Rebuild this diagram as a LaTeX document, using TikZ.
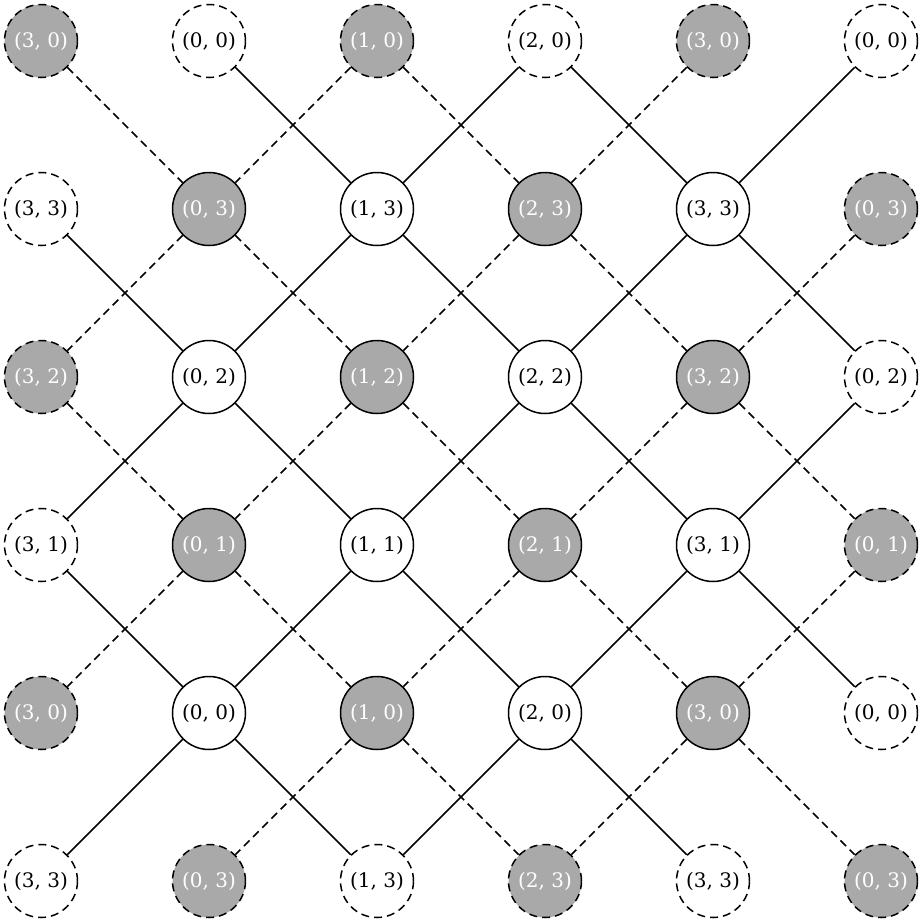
\documentclass[tikz,border=0pt]{standalone}
\usepackage{fontspec}
\setmainfont{DejaVu Serif}
\definecolor{grayfill}{HTML}{A9A9A9}
\begin{document}
\begin{tikzpicture}[x=0.5pt,y=-0.5pt,
  vtx/.style={circle,draw,line width=0.75pt,minimum size=36.5pt,inner sep=0pt,font=\fontsize{10}{12}\selectfont},
  wht/.style={fill=white,text=black},
  gry/.style={fill=grayfill,text=white},
  outerb/.style={dash pattern=on 4pt off 2.5pt},
  innerb/.style={solid},
  wedge/.style={line width=0.75pt},
  gedge/.style={line width=0.75pt,dash pattern=on 4pt off 2.5pt}]
\useasboundingbox (0,0) rectangle (923,923);
\foreach \r in {0,...,5}{%
  \foreach \c in {0,...,5}{%
    \pgfmathtruncatemacro\la{mod(\c+3,4)}%
    \pgfmathtruncatemacro\lb{mod(8-\r,4)}%
    \pgfmathtruncatemacro\g{mod(\r+\c,2)}%
    \pgfmathtruncatemacro\inn{(\r>0)&&(\r<5)&&(\c>0)&&(\c<5)}%
    \ifnum\g=0 \def\col{gry}\else\def\col{wht}\fi
    \ifnum\inn=1 \def\bd{innerb}\else\def\bd{outerb}\fi
    \node[vtx,\col,\bd] (n\r-\c) at ({41+168*\c},{41+168*\r}) {(\la, \lb)};
  }%
}
\foreach \r in {0,...,4}{%
  \foreach \c in {0,...,5}{%
    \pgfmathtruncatemacro\g{mod(\r+\c,2)}%
    \ifnum\g=0 \def\es{gedge}\else\def\es{wedge}\fi
    \pgfmathtruncatemacro\rN{\r+1}%
    \pgfmathtruncatemacro\cR{\c+1}%
    \pgfmathtruncatemacro\cL{\c-1}%
    \pgfmathtruncatemacro\ia{(\r>0)&&(\c>0)&&(\c<5)}%
    \pgfmathtruncatemacro\ib{(\r<4)&&(\c<4)}%
    \pgfmathtruncatemacro\ic{(\r<4)&&(\c>1)}%
    \pgfmathtruncatemacro\dr{(\c<5)&&((\ia==1)||(\ib==1))}%
    \pgfmathtruncatemacro\dl{(\c>0)&&((\ia==1)||(\ic==1))}%
    \ifnum\dr=1 \draw[\es] (n\r-\c) -- (n\rN-\cR);\fi
    \ifnum\dl=1 \draw[\es] (n\r-\c) -- (n\rN-\cL);\fi
  }%
}
\end{tikzpicture}
\end{document}
